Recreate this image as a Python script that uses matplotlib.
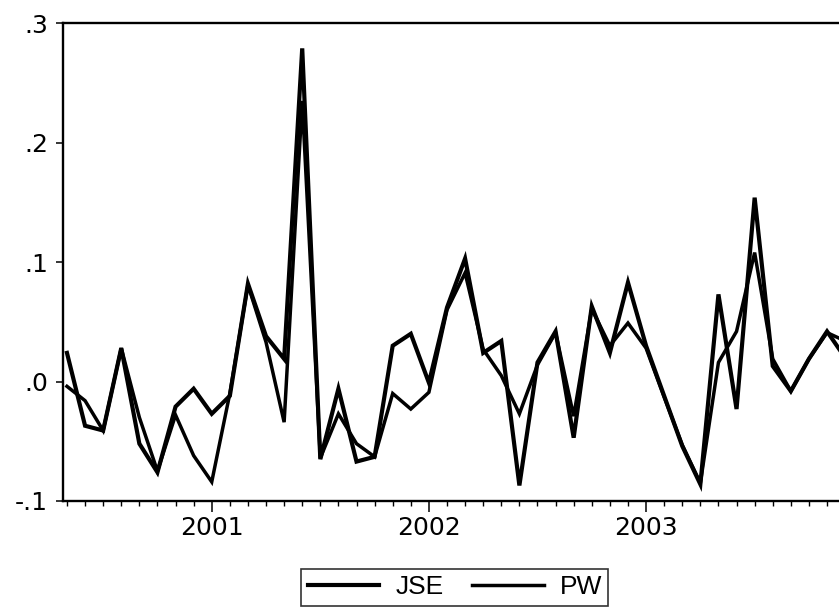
import numpy as np
import pandas as pd
import matplotlib
matplotlib.use('Agg')
import matplotlib.pyplot as plt
from matplotlib.lines import Line2D

# monthly returns, 2000M05 - 2003M12
months = pd.period_range('2000-05', '2003-12', freq='M')
jse = [0.024, -0.037, -0.041, 0.028, -0.052, -0.076, -0.021, -0.006, -0.027, -0.012,
       0.082, 0.038, 0.019, 0.279, -0.065, -0.006, -0.067, -0.063, 0.030, 0.040,
       -0.001, 0.062, 0.103, 0.024, 0.034, -0.087, 0.016, 0.042, -0.047, 0.063,
       0.024, 0.083, 0.030, -0.012, -0.054, -0.086, 0.073, -0.023, 0.154, 0.013,
       -0.008, 0.019, 0.042, 0.020]
pw = [-0.004, -0.016, -0.041, 0.028, -0.030, -0.075, -0.028, -0.062, -0.084, -0.010,
      0.081, 0.033, -0.034, 0.235, -0.064, -0.027, -0.052, -0.063, -0.010, -0.023,
      -0.009, 0.060, 0.091, 0.027, 0.005, -0.027, 0.014, 0.041, -0.029, 0.061,
      0.030, 0.049, 0.028, -0.013, -0.053, -0.085, 0.016, 0.042, 0.108, 0.019,
      -0.008, 0.019, 0.041, 0.034]
year_labels = ['2001', '2002', '2003']
ytick_vals = [-0.1, 0.0, 0.1, 0.2, 0.3]
ytick_labels = ['-.1', '.0', '.1', '.2', '.3']

plt.rcParams['font.family'] = ['DejaVu Sans']

t = np.arange(len(months))
jan_idx = [i for i, m in enumerate(months) if m.month == 1]

fig = plt.figure(figsize=(8.39, 6.16), dpi=100)
# axes runs slightly past the right edge, like the cropped original
ax = fig.add_axes([0.0755, 0.1867, 0.9318, 0.7755])

ax.plot(t, jse, color='black', lw=3.0, solid_joinstyle='miter', label='JSE', zorder=3)
ax.plot(t, pw, color='black', lw=2.5, solid_joinstyle='miter', label='PW', zorder=2)

ax.set_xlim(-0.2, 43.0)
ax.set_ylim(-0.1, 0.3)

ax.set_xticks(jan_idx)
ax.set_xticklabels(year_labels)
ax.set_xticks(t, minor=True)
ax.set_yticks(ytick_vals)
ax.set_yticklabels(ytick_labels)

ax.tick_params(axis='x', which='major', direction='out', length=8, width=1.1,
               pad=3, labelsize=18)
ax.tick_params(axis='x', which='minor', direction='out', length=3.6, width=1.0)
ax.tick_params(axis='y', which='major', direction='out', length=5, width=1.1,
               pad=6, labelsize=18)

for side in ['top', 'left', 'bottom', 'right']:
    ax.spines[side].set_linewidth(1.7)
    ax.spines[side].set_color('black')

handles = [Line2D([], [], color='black', lw=3.0), Line2D([], [], color='black', lw=2.5)]
leg = fig.legend(handles, ['JSE', 'PW'], loc='center', bbox_to_anchor=(0.5423, 0.0463),
                 ncol=2, frameon=True, fancybox=False, shadow=False,
                 prop={'family': ['Liberation Sans'], 'size': 19},
                 handlelength=2.7, handletextpad=0.6, columnspacing=1.1,
                 borderpad=0.25, borderaxespad=0)
leg.get_frame().set_edgecolor('black')
leg.get_frame().set_linewidth(1.2)

fig.savefig('out.png', dpi=100, facecolor='white')
